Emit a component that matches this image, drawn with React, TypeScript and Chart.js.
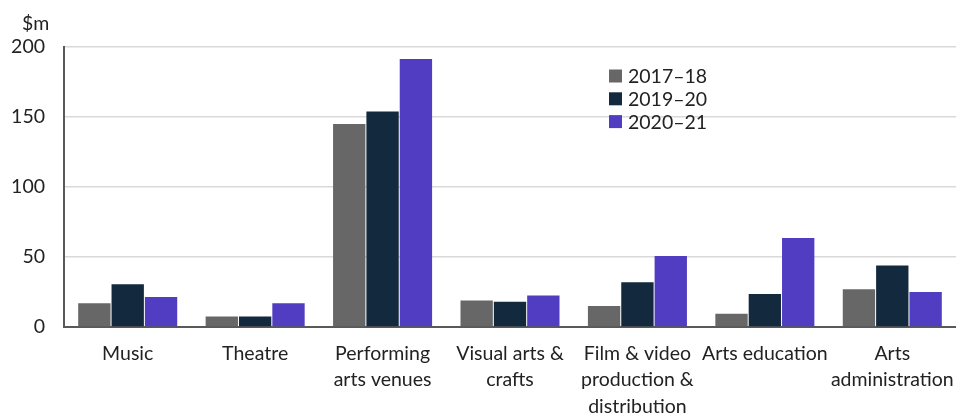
import React, { useEffect, useRef } from "react";
import { Chart, registerables } from "chart.js";

Chart.register(...registerables);

const categories: (string | string[])[] = [
  "Music",
  "Theatre",
  ["Performing", "arts venues"],
  ["Visual arts &", "crafts"],
  ["Film & video", "production &", "distribution"],
  "Arts education",
  ["Arts", "administration"],
];
const seriesNames = ["2017–18", "2019–20", "2020–21"];
const values1718 = [17, 7.5, 145, 19, 15, 9.5, 27];
const values1920 = [30.5, 7.5, 154, 18, 32, 23.5, 44];
const values2021 = [21.5, 17, 191.5, 22.5, 50.7, 63.5, 25];
const colors = ["#676767", "#13293D", "#503DC1"];
const yTicks = [0, 50, 100, 150, 200];
const unitLabel = "$m";

const FONT = "Lato, 'Open Sans', sans-serif";
const FS = 19.5;

export default function App() {
  const ref = useRef<HTMLCanvasElement | null>(null);
  useEffect(() => {
    if (!ref.current) return;
    const overlay = {
      id: "overlay",
      afterDraw(chart: any) {
        const ctx = chart.ctx;
        const ca = chart.chartArea;
        ctx.save();
        ctx.font = `${FS}px ${FONT}`;
        ctx.fillStyle = "#222";
        ctx.textBaseline = "middle";
        ctx.textAlign = "left";
        ctx.fillText(unitLabel, 22, 24);
        chart.data.datasets.forEach((ds: any, i: number) => {
          const y = ca.top + 29 + i * 22.8;
          const x = ca.left + 545;
          ctx.fillStyle = ds.backgroundColor;
          ctx.fillRect(x, y - 6.5, 13, 13);
          ctx.fillStyle = "#222";
          ctx.fillText(ds.label, x + 19, y + 1);
        });
        ctx.restore();
      },
    };
    const chart = new Chart(ref.current, {
      type: "bar",
      data: {
        labels: categories,
        datasets: [values1718, values1920, values2021].map((v, i) => ({
          label: seriesNames[i],
          data: v,
          backgroundColor: colors[i],
          barPercentage: 0.97,
          categoryPercentage: 0.785,
        })),
      },
      options: {
        responsive: false,
        animation: false,
        layout: { padding: { top: 47, left: 0, right: 0, bottom: 0 } },
        plugins: { legend: { display: false }, tooltip: { enabled: false } },
        scales: {
          y: {
            min: 0,
            max: 200,
            afterBuildTicks: (s: any) => {
              s.ticks = yTicks.map((v) => ({ value: v }));
            },
            afterFit: (s: any) => {
              s.width = 64;
              s.paddingTop = 0;
              s.paddingBottom = 0;
            },
            ticks: {
              padding: 19,
              color: "#222",
              font: { family: FONT, size: FS },
            },
            grid: { color: "#d9d9d9", lineWidth: 1.5, drawTicks: false },
            border: { color: "#595959", width: 2 },
          },
          x: {
            afterFit: (s: any) => {
              s.height = 86;
              s.paddingLeft = 0;
              s.paddingRight = 0;
            },
            ticks: {
              padding: 14,
              maxRotation: 0,
              autoSkip: false,
              color: "#222",
              font: { family: FONT, size: FS, lineHeight: 1.34 },
            },
            grid: { display: false, drawTicks: false },
            border: { color: "#595959", width: 2 },
          },
        },
      },
      plugins: [overlay],
    });
    return () => chart.destroy();
  }, []);
  return (
    <div style={{ position: "absolute", left: 0, top: 0, width: 956, height: 413, background: "#fff" }}>
      <canvas ref={ref} width={956} height={413} />
    </div>
  );
}
